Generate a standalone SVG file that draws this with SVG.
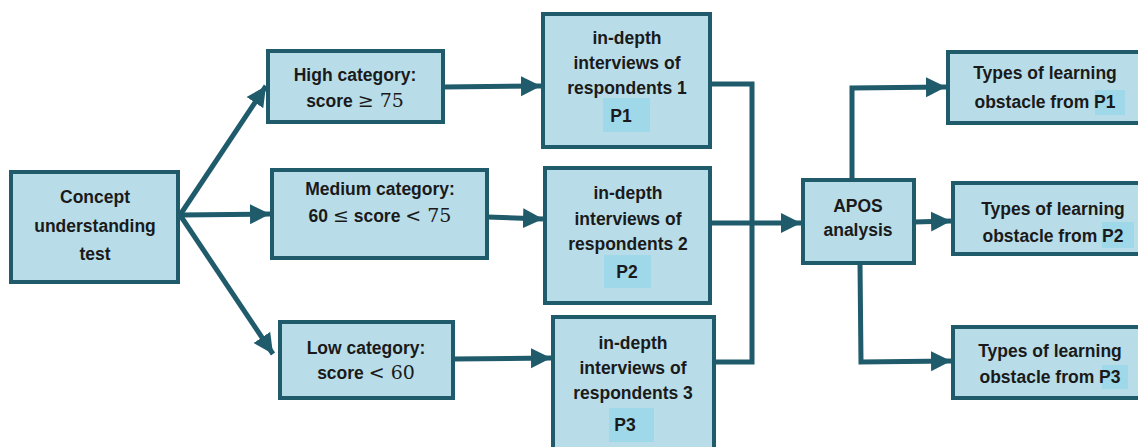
<svg xmlns="http://www.w3.org/2000/svg" width="1138" height="447" viewBox="0 0 1138 447">
<style>
.box{fill:#b8dde8;stroke:#1f5b6b;stroke-width:4}
.hl{fill:#9ed8e9}
.t{font-family:"Liberation Sans",Arial,sans-serif;font-weight:bold;font-size:17.5px;fill:#1a1a1a;text-anchor:middle}
.m{font-family:"DejaVu Serif","Liberation Serif",serif;font-weight:normal;font-size:19px}
.c{fill:none;stroke:#1f5b6b;stroke-width:5}
</style>
<defs>
<marker id="ah" markerUnits="userSpaceOnUse" markerWidth="22" markerHeight="22" viewBox="0 0 22 22" refX="20" refY="11" orient="auto">
<path d="M0,1 L20,11 L0,21 z" fill="#1f5b6b"/>
</marker>
</defs>
<rect width="1138" height="447" fill="#ffffff"/>
<g id="connectors">
<line class="c" x1="180" y1="215" x2="266" y2="86" marker-end="url(#ah)"/>
<line class="c" x1="180" y1="215" x2="270" y2="214" marker-end="url(#ah)"/>
<line class="c" x1="180" y1="215" x2="273" y2="354" marker-end="url(#ah)"/>
<line class="c" x1="443" y1="87" x2="541" y2="86" marker-end="url(#ah)"/>
<line class="c" x1="487" y1="217" x2="543" y2="219" marker-end="url(#ah)"/>
<line class="c" x1="453" y1="359" x2="551" y2="358" marker-end="url(#ah)"/>
<polyline class="c" points="710,84 752,84 752,362 714,362"/>
<line class="c" x1="712" y1="223" x2="801" y2="223" marker-end="url(#ah)"/>
<polyline class="c" points="852,180 852,88 946,87" marker-end="url(#ah)"/>
<line class="c" x1="914" y1="222" x2="951" y2="221" marker-end="url(#ah)"/>
<polyline class="c" points="860,263 861,362 951,361" marker-end="url(#ah)"/>
</g>
<g id="concept">
<rect class="box" x="11" y="172" width="167" height="110"/>
<text class="t" x="95" y="203">Concept</text>
<text class="t" x="95" y="232">understanding</text>
<text class="t" x="95" y="260">test</text>
</g>
<g id="high">
<rect class="box" x="268" y="51" width="175" height="71"/>
<text class="t" x="355" y="81">High category:</text>
<text class="t" x="355" y="107">score <tspan class="m">≥ 75</tspan></text>
</g>
<g id="medium">
<rect class="box" x="272" y="170" width="215" height="88"/>
<text class="t" x="380" y="195">Medium category:</text>
<text class="t" x="380" y="222">60 <tspan class="m">≤</tspan> score <tspan class="m">&lt; 75</tspan></text>
</g>
<g id="low">
<rect class="box" x="280" y="322" width="173" height="76"/>
<text class="t" x="366" y="354">Low category:</text>
<text class="t" x="366" y="379">score <tspan class="m">&lt; 60</tspan></text>
</g>
<g id="interview1">
<rect class="box" x="543" y="14" width="167" height="133"/>
<text class="t" x="627" y="44">in-depth</text>
<text class="t" x="627" y="69">interviews of</text>
<text class="t" x="627" y="94">respondents 1</text>
<rect class="hl" x="603" y="98" width="47" height="34"/>
<text class="t" x="621" y="122">P1</text>
</g>
<g id="interview2">
<rect class="box" x="545" y="168" width="165" height="135"/>
<text class="t" x="628" y="199">in-depth</text>
<text class="t" x="628" y="225">interviews of</text>
<text class="t" x="628" y="250">respondents 2</text>
<rect class="hl" x="604" y="255" width="47" height="33"/>
<text class="t" x="627" y="278">P2</text>
</g>
<g id="interview3">
<rect class="box" x="553" y="317" width="161" height="140"/>
<text class="t" x="633" y="349">in-depth</text>
<text class="t" x="633" y="374">interviews of</text>
<text class="t" x="633" y="399">respondents 3</text>
<rect class="hl" x="609" y="408" width="45" height="34"/>
<text class="t" x="625" y="431">P3</text>
</g>
<g id="apos">
<rect class="box" x="803" y="180" width="111" height="83"/>
<text class="t" x="858" y="212">APOS</text>
<text class="t" x="858" y="236">analysis</text>
</g>
<g id="types1">
<rect class="box" x="948" y="52" width="194" height="71"/>
<text class="t" x="1045" y="79">Types of learning</text>
<rect class="hl" x="1095" y="90" width="30" height="25"/>
<text class="t" x="1045" y="108">obstacle from P1</text>
</g>
<g id="types2">
<rect class="box" x="953" y="183" width="189" height="71"/>
<text class="t" x="1053" y="215">Types of learning</text>
<rect class="hl" x="1102" y="222" width="32" height="26"/>
<text class="t" x="1053" y="242">obstacle from P2</text>
</g>
<g id="types3">
<rect class="box" x="953" y="327" width="189" height="71"/>
<text class="t" x="1050" y="357">Types of learning</text>
<rect class="hl" x="1102" y="365" width="26" height="24"/>
<text class="t" x="1050" y="383">obstacle from P3</text>
</g>
</svg>
